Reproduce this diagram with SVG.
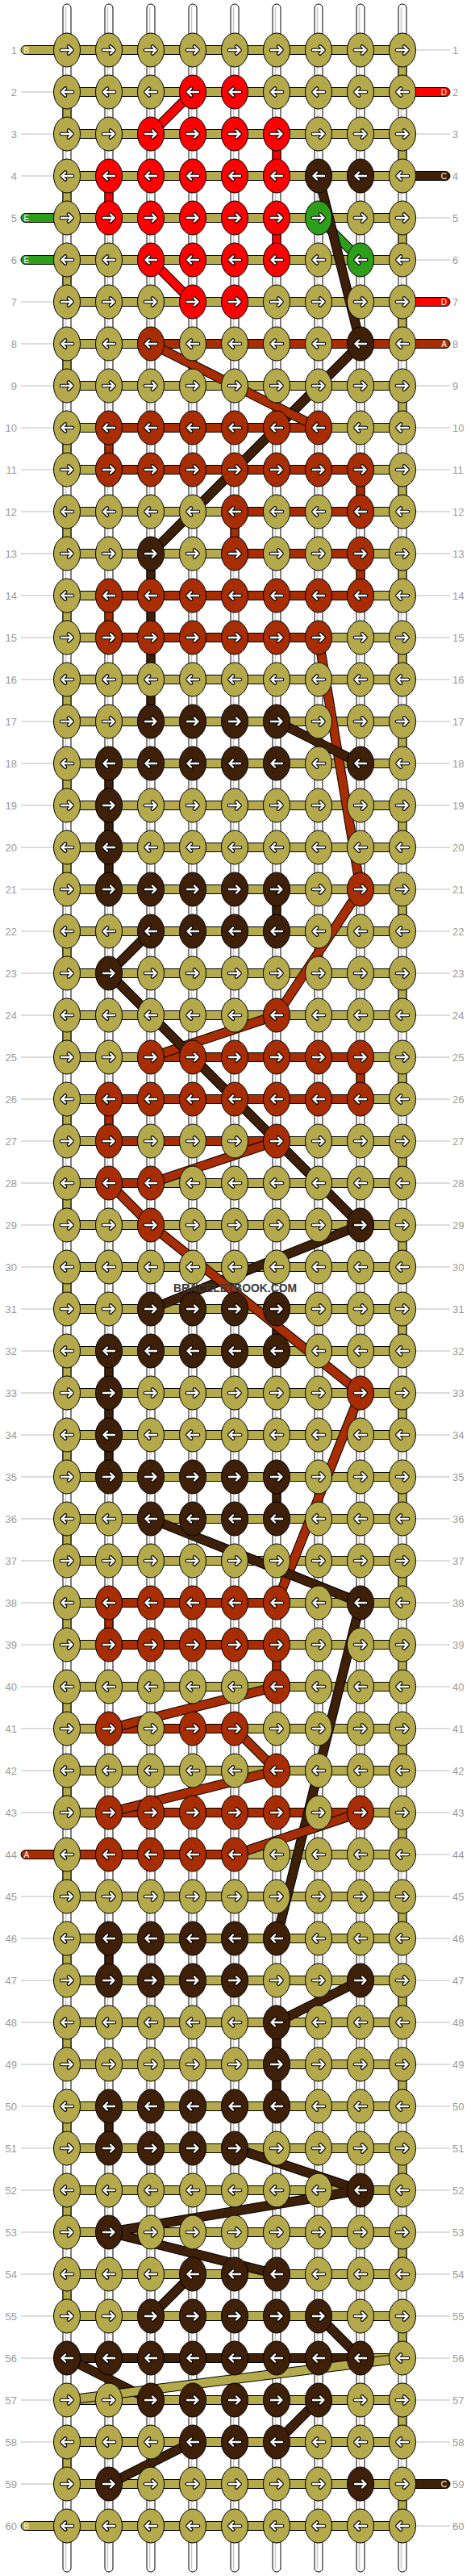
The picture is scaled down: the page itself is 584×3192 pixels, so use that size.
<svg xmlns="http://www.w3.org/2000/svg" width="584" height="3192" viewBox="0 0 584 3192">
<style>
.O{fill:#b4aa4b}.R{fill:#ff0000}.C{fill:#3e1f08}.E{fill:#2e9e1a}.A{fill:#a82d03}
.s{stroke:#000;stroke-width:1}
.wt{fill:#fff;stroke:#000;stroke-width:1}
.wl{stroke:#c8c8c8;stroke-width:1.5}
.gl{stroke:#bbb;stroke-width:1}
.ab{fill:none;stroke:#000;stroke-width:4.6;stroke-linecap:round;stroke-linejoin:round}
.aw{fill:none;stroke:#fff;stroke-width:2.4;stroke-linecap:round;stroke-linejoin:round}
.dk{fill:none;stroke:#000;stroke-width:12}
.dO{fill:none;stroke:#b4aa4b;stroke-width:10}
.dR{fill:none;stroke:#ff0000;stroke-width:10}
.dC{fill:none;stroke:#3e1f08;stroke-width:10}
.dE{fill:none;stroke:#2e9e1a;stroke-width:10}
.dA{fill:none;stroke:#a82d03;stroke-width:10}
.lb{font-family:"Liberation Sans",Arial,sans-serif;font-size:13px;fill:#9a9a9a}
.tl{font-family:"Liberation Sans",Arial,sans-serif;font-size:10px;fill:#fff}
</style>
<defs>
<path id="pr" d="M-7,0H6.5M2,-4.5L6.5,0L2,4.5"/>
<path id="pl" d="M7,0H-6.5M-2,-4.5L-6.5,0L-2,4.5"/>
<g id="aR"><use href="#pr" class="ab"/><use href="#pr" class="aw"/></g>
<g id="aL"><use href="#pl" class="ab"/><use href="#pl" class="aw"/></g>
<ellipse id="e" rx="16.5" ry="21" stroke="#000" stroke-width="1"/>
<g id="OR"><use href="#e" class="O"/><use href="#aR"/></g>
<g id="OL"><use href="#e" class="O"/><use href="#aL"/></g>
<g id="RR"><use href="#e" class="R"/><use href="#aR"/></g>
<g id="RL"><use href="#e" class="R"/><use href="#aL"/></g>
<g id="CR"><use href="#e" class="C"/><use href="#aR"/></g>
<g id="CL"><use href="#e" class="C"/><use href="#aL"/></g>
<g id="ER"><use href="#e" class="E"/><use href="#aR"/></g>
<g id="EL"><use href="#e" class="E"/><use href="#aL"/></g>
<g id="AR"><use href="#e" class="A"/><use href="#aR"/></g>
<g id="AL"><use href="#e" class="A"/><use href="#aL"/></g>
<rect id="v" width="10" height="52" stroke="#000" stroke-width="1"/>
</defs>
<rect width="584" height="3192" fill="#fff"/>
<g id="labels-lines">
<line x1="512" y1="62" x2="558" y2="62" class="gl"/>
<line x1="26" y1="114" x2="70" y2="114" class="gl"/>
<line x1="26" y1="166" x2="70" y2="166" class="gl"/><line x1="512" y1="166" x2="558" y2="166" class="gl"/>
<line x1="26" y1="218" x2="70" y2="218" class="gl"/>
<line x1="512" y1="270" x2="558" y2="270" class="gl"/>
<line x1="512" y1="322" x2="558" y2="322" class="gl"/>
<line x1="26" y1="374" x2="70" y2="374" class="gl"/>
<line x1="26" y1="426" x2="70" y2="426" class="gl"/>
<line x1="26" y1="478" x2="70" y2="478" class="gl"/><line x1="512" y1="478" x2="558" y2="478" class="gl"/>
<line x1="26" y1="530" x2="70" y2="530" class="gl"/><line x1="512" y1="530" x2="558" y2="530" class="gl"/>
<line x1="26" y1="582" x2="70" y2="582" class="gl"/><line x1="512" y1="582" x2="558" y2="582" class="gl"/>
<line x1="26" y1="634" x2="70" y2="634" class="gl"/><line x1="512" y1="634" x2="558" y2="634" class="gl"/>
<line x1="26" y1="686" x2="70" y2="686" class="gl"/><line x1="512" y1="686" x2="558" y2="686" class="gl"/>
<line x1="26" y1="738" x2="70" y2="738" class="gl"/><line x1="512" y1="738" x2="558" y2="738" class="gl"/>
<line x1="26" y1="790" x2="70" y2="790" class="gl"/><line x1="512" y1="790" x2="558" y2="790" class="gl"/>
<line x1="26" y1="842" x2="70" y2="842" class="gl"/><line x1="512" y1="842" x2="558" y2="842" class="gl"/>
<line x1="26" y1="894" x2="70" y2="894" class="gl"/><line x1="512" y1="894" x2="558" y2="894" class="gl"/>
<line x1="26" y1="946" x2="70" y2="946" class="gl"/><line x1="512" y1="946" x2="558" y2="946" class="gl"/>
<line x1="26" y1="998" x2="70" y2="998" class="gl"/><line x1="512" y1="998" x2="558" y2="998" class="gl"/>
<line x1="26" y1="1050" x2="70" y2="1050" class="gl"/><line x1="512" y1="1050" x2="558" y2="1050" class="gl"/>
<line x1="26" y1="1102" x2="70" y2="1102" class="gl"/><line x1="512" y1="1102" x2="558" y2="1102" class="gl"/>
<line x1="26" y1="1154" x2="70" y2="1154" class="gl"/><line x1="512" y1="1154" x2="558" y2="1154" class="gl"/>
<line x1="26" y1="1206" x2="70" y2="1206" class="gl"/><line x1="512" y1="1206" x2="558" y2="1206" class="gl"/>
<line x1="26" y1="1258" x2="70" y2="1258" class="gl"/><line x1="512" y1="1258" x2="558" y2="1258" class="gl"/>
<line x1="26" y1="1310" x2="70" y2="1310" class="gl"/><line x1="512" y1="1310" x2="558" y2="1310" class="gl"/>
<line x1="26" y1="1362" x2="70" y2="1362" class="gl"/><line x1="512" y1="1362" x2="558" y2="1362" class="gl"/>
<line x1="26" y1="1414" x2="70" y2="1414" class="gl"/><line x1="512" y1="1414" x2="558" y2="1414" class="gl"/>
<line x1="26" y1="1466" x2="70" y2="1466" class="gl"/><line x1="512" y1="1466" x2="558" y2="1466" class="gl"/>
<line x1="26" y1="1518" x2="70" y2="1518" class="gl"/><line x1="512" y1="1518" x2="558" y2="1518" class="gl"/>
<line x1="26" y1="1570" x2="70" y2="1570" class="gl"/><line x1="512" y1="1570" x2="558" y2="1570" class="gl"/>
<line x1="26" y1="1622" x2="70" y2="1622" class="gl"/><line x1="512" y1="1622" x2="558" y2="1622" class="gl"/>
<line x1="26" y1="1674" x2="70" y2="1674" class="gl"/><line x1="512" y1="1674" x2="558" y2="1674" class="gl"/>
<line x1="26" y1="1726" x2="70" y2="1726" class="gl"/><line x1="512" y1="1726" x2="558" y2="1726" class="gl"/>
<line x1="26" y1="1778" x2="70" y2="1778" class="gl"/><line x1="512" y1="1778" x2="558" y2="1778" class="gl"/>
<line x1="26" y1="1830" x2="70" y2="1830" class="gl"/><line x1="512" y1="1830" x2="558" y2="1830" class="gl"/>
<line x1="26" y1="1882" x2="70" y2="1882" class="gl"/><line x1="512" y1="1882" x2="558" y2="1882" class="gl"/>
<line x1="26" y1="1934" x2="70" y2="1934" class="gl"/><line x1="512" y1="1934" x2="558" y2="1934" class="gl"/>
<line x1="26" y1="1986" x2="70" y2="1986" class="gl"/><line x1="512" y1="1986" x2="558" y2="1986" class="gl"/>
<line x1="26" y1="2038" x2="70" y2="2038" class="gl"/><line x1="512" y1="2038" x2="558" y2="2038" class="gl"/>
<line x1="26" y1="2090" x2="70" y2="2090" class="gl"/><line x1="512" y1="2090" x2="558" y2="2090" class="gl"/>
<line x1="26" y1="2142" x2="70" y2="2142" class="gl"/><line x1="512" y1="2142" x2="558" y2="2142" class="gl"/>
<line x1="26" y1="2194" x2="70" y2="2194" class="gl"/><line x1="512" y1="2194" x2="558" y2="2194" class="gl"/>
<line x1="26" y1="2246" x2="70" y2="2246" class="gl"/><line x1="512" y1="2246" x2="558" y2="2246" class="gl"/>
<line x1="512" y1="2298" x2="558" y2="2298" class="gl"/>
<line x1="26" y1="2350" x2="70" y2="2350" class="gl"/><line x1="512" y1="2350" x2="558" y2="2350" class="gl"/>
<line x1="26" y1="2402" x2="70" y2="2402" class="gl"/><line x1="512" y1="2402" x2="558" y2="2402" class="gl"/>
<line x1="26" y1="2454" x2="70" y2="2454" class="gl"/><line x1="512" y1="2454" x2="558" y2="2454" class="gl"/>
<line x1="26" y1="2506" x2="70" y2="2506" class="gl"/><line x1="512" y1="2506" x2="558" y2="2506" class="gl"/>
<line x1="26" y1="2558" x2="70" y2="2558" class="gl"/><line x1="512" y1="2558" x2="558" y2="2558" class="gl"/>
<line x1="26" y1="2610" x2="70" y2="2610" class="gl"/><line x1="512" y1="2610" x2="558" y2="2610" class="gl"/>
<line x1="26" y1="2662" x2="70" y2="2662" class="gl"/><line x1="512" y1="2662" x2="558" y2="2662" class="gl"/>
<line x1="26" y1="2714" x2="70" y2="2714" class="gl"/><line x1="512" y1="2714" x2="558" y2="2714" class="gl"/>
<line x1="26" y1="2766" x2="70" y2="2766" class="gl"/><line x1="512" y1="2766" x2="558" y2="2766" class="gl"/>
<line x1="26" y1="2818" x2="70" y2="2818" class="gl"/><line x1="512" y1="2818" x2="558" y2="2818" class="gl"/>
<line x1="26" y1="2870" x2="70" y2="2870" class="gl"/><line x1="512" y1="2870" x2="558" y2="2870" class="gl"/>
<line x1="26" y1="2922" x2="70" y2="2922" class="gl"/><line x1="512" y1="2922" x2="558" y2="2922" class="gl"/>
<line x1="26" y1="2974" x2="70" y2="2974" class="gl"/><line x1="512" y1="2974" x2="558" y2="2974" class="gl"/>
<line x1="26" y1="3026" x2="70" y2="3026" class="gl"/><line x1="512" y1="3026" x2="558" y2="3026" class="gl"/>
<line x1="26" y1="3078" x2="70" y2="3078" class="gl"/>
<line x1="512" y1="3130" x2="558" y2="3130" class="gl"/>
</g>
<g id="connectors">
<g id="strings">
<rect x="78" y="5" width="10" height="3182" rx="5" class="wt"/><line x1="81.5" y1="9" x2="81.5" y2="3183" class="wl"/>
<rect x="130" y="5" width="10" height="3182" rx="5" class="wt"/><line x1="133.5" y1="9" x2="133.5" y2="3183" class="wl"/>
<rect x="182" y="5" width="10" height="3182" rx="5" class="wt"/><line x1="185.5" y1="9" x2="185.5" y2="3183" class="wl"/>
<rect x="234" y="5" width="10" height="3182" rx="5" class="wt"/><line x1="237.5" y1="9" x2="237.5" y2="3183" class="wl"/>
<rect x="286" y="5" width="10" height="3182" rx="5" class="wt"/><line x1="289.5" y1="9" x2="289.5" y2="3183" class="wl"/>
<rect x="338" y="5" width="10" height="3182" rx="5" class="wt"/><line x1="341.5" y1="9" x2="341.5" y2="3183" class="wl"/>
<rect x="390" y="5" width="10" height="3182" rx="5" class="wt"/><line x1="393.5" y1="9" x2="393.5" y2="3183" class="wl"/>
<rect x="442" y="5" width="10" height="3182" rx="5" class="wt"/><line x1="445.5" y1="9" x2="445.5" y2="3183" class="wl"/>
<rect x="494" y="5" width="10" height="3182" rx="5" class="wt"/><line x1="497.5" y1="9" x2="497.5" y2="3183" class="wl"/>
</g>
<g id="turns">
<use href="#v" class="O" x="494" y="62"/><use href="#v" class="O" x="494" y="166"/><use href="#v" class="O" x="494" y="270"/><use href="#v" class="O" x="494" y="374"/><use href="#v" class="O" x="494" y="478"/><use href="#v" class="O" x="494" y="582"/><use href="#v" class="O" x="494" y="686"/><use href="#v" class="O" x="494" y="790"/><use href="#v" class="O" x="494" y="894"/><use href="#v" class="O" x="494" y="998"/>
<use href="#v" class="O" x="494" y="1102"/><use href="#v" class="O" x="494" y="1206"/><use href="#v" class="O" x="494" y="1310"/><use href="#v" class="O" x="494" y="1414"/><use href="#v" class="O" x="494" y="1518"/><use href="#v" class="O" x="494" y="1622"/><use href="#v" class="O" x="494" y="1726"/><use href="#v" class="O" x="494" y="1830"/><use href="#v" class="O" x="494" y="1934"/><use href="#v" class="O" x="494" y="2038"/>
<use href="#v" class="O" x="494" y="2142"/><use href="#v" class="O" x="494" y="2246"/><use href="#v" class="O" x="494" y="2350"/><use href="#v" class="O" x="494" y="2454"/><use href="#v" class="O" x="494" y="2558"/><use href="#v" class="O" x="494" y="2662"/><use href="#v" class="O" x="494" y="2766"/><use href="#v" class="O" x="494" y="2870"/><use href="#v" class="O" x="494" y="2974"/><use href="#v" class="O" x="494" y="3078"/>
<use href="#v" class="O" x="78" y="114"/><use href="#v" class="O" x="78" y="218"/><use href="#v" class="O" x="78" y="322"/><use href="#v" class="O" x="78" y="426"/><use href="#v" class="O" x="78" y="530"/><use href="#v" class="O" x="78" y="634"/><use href="#v" class="O" x="78" y="738"/><use href="#v" class="O" x="78" y="842"/><use href="#v" class="O" x="78" y="946"/><use href="#v" class="O" x="78" y="1050"/>
<use href="#v" class="O" x="78" y="1154"/><use href="#v" class="O" x="78" y="1258"/><use href="#v" class="O" x="78" y="1362"/><use href="#v" class="O" x="78" y="1466"/><use href="#v" class="O" x="78" y="1570"/><use href="#v" class="O" x="78" y="1674"/><use href="#v" class="O" x="78" y="1778"/><use href="#v" class="O" x="78" y="1882"/><use href="#v" class="O" x="78" y="1986"/><use href="#v" class="O" x="78" y="2090"/>
<use href="#v" class="O" x="78" y="2194"/><use href="#v" class="O" x="78" y="2298"/><use href="#v" class="O" x="78" y="2402"/><use href="#v" class="O" x="78" y="2506"/><use href="#v" class="O" x="78" y="2610"/><use href="#v" class="O" x="78" y="2714"/><use href="#v" class="O" x="78" y="2818"/><use href="#v" class="O" x="78" y="3026"/>
<use href="#v" class="R" x="338" y="166"/><use href="#v" class="R" x="130" y="218"/><use href="#v" class="R" x="338" y="270"/>
<use href="#v" class="A" x="130" y="530"/><use href="#v" class="A" x="442" y="582"/><use href="#v" class="A" x="286" y="634"/>
<use href="#v" class="C" x="182" y="686"/><use href="#v" class="A" x="442" y="686"/>
<use href="#v" class="A" x="130" y="738"/><use href="#v" class="C" x="182" y="738"/>
<use href="#v" class="C" x="182" y="790"/><use href="#v" class="C" x="182" y="842"/>
<use href="#v" class="C" x="130" y="946"/><use href="#v" class="C" x="130" y="998"/><use href="#v" class="C" x="130" y="1050"/><use href="#v" class="C" x="338" y="1102"/>
<use href="#v" class="A" x="442" y="1310"/><use href="#v" class="A" x="130" y="1362"/>
<use href="#v" class="C" x="338" y="1622"/><use href="#v" class="C" x="130" y="1674"/><use href="#v" class="C" x="130" y="1726"/><use href="#v" class="C" x="130" y="1778"/><use href="#v" class="C" x="338" y="1830"/>
<use href="#v" class="A" x="130" y="1986"/><use href="#v" class="A" x="338" y="2038"/>
<use href="#v" class="C" x="130" y="2402"/><use href="#v" class="C" x="338" y="2506"/><use href="#v" class="C" x="338" y="2558"/><use href="#v" class="C" x="130" y="2610"/>
</g>
<g id="rails" class="s">
<rect x="83" y="56.5" width="416" height="11" class="O"/><rect x="83" y="108.5" width="416" height="11" class="O"/><rect x="83" y="160.5" width="416" height="11" class="O"/><rect x="83" y="212.5" width="416" height="11" class="O"/><rect x="83" y="264.5" width="416" height="11" class="O"/><rect x="83" y="316.5" width="416" height="11" class="O"/><rect x="83" y="368.5" width="416" height="11" class="O"/><rect x="83" y="420.5" width="416" height="11" class="O"/><rect x="83" y="472.5" width="416" height="11" class="O"/><rect x="83" y="524.5" width="416" height="11" class="O"/>
<rect x="83" y="576.5" width="416" height="11" class="O"/><rect x="83" y="628.5" width="416" height="11" class="O"/><rect x="83" y="680.5" width="416" height="11" class="O"/><rect x="83" y="732.5" width="416" height="11" class="O"/><rect x="83" y="784.5" width="416" height="11" class="O"/><rect x="83" y="836.5" width="416" height="11" class="O"/><rect x="83" y="888.5" width="416" height="11" class="O"/><rect x="83" y="940.5" width="416" height="11" class="O"/><rect x="83" y="992.5" width="416" height="11" class="O"/><rect x="83" y="1044.5" width="416" height="11" class="O"/>
<rect x="83" y="1096.5" width="416" height="11" class="O"/><rect x="83" y="1148.5" width="416" height="11" class="O"/><rect x="83" y="1200.5" width="416" height="11" class="O"/><rect x="83" y="1252.5" width="416" height="11" class="O"/><rect x="83" y="1304.5" width="416" height="11" class="O"/><rect x="83" y="1356.5" width="416" height="11" class="O"/><rect x="83" y="1408.5" width="416" height="11" class="O"/><rect x="83" y="1460.5" width="416" height="11" class="O"/><rect x="83" y="1512.5" width="416" height="11" class="O"/><rect x="83" y="1564.5" width="416" height="11" class="O"/>
<rect x="83" y="1616.5" width="416" height="11" class="O"/><rect x="83" y="1668.5" width="416" height="11" class="O"/><rect x="83" y="1720.5" width="416" height="11" class="O"/><rect x="83" y="1772.5" width="416" height="11" class="O"/><rect x="83" y="1824.5" width="416" height="11" class="O"/><rect x="83" y="1876.5" width="416" height="11" class="O"/><rect x="83" y="1928.5" width="416" height="11" class="O"/><rect x="83" y="1980.5" width="416" height="11" class="O"/><rect x="83" y="2032.5" width="416" height="11" class="O"/><rect x="83" y="2084.5" width="416" height="11" class="O"/>
<rect x="83" y="2136.5" width="416" height="11" class="O"/><rect x="83" y="2188.5" width="416" height="11" class="O"/><rect x="83" y="2240.5" width="416" height="11" class="O"/><rect x="83" y="2292.5" width="416" height="11" class="O"/><rect x="83" y="2344.5" width="416" height="11" class="O"/><rect x="83" y="2396.5" width="416" height="11" class="O"/><rect x="83" y="2448.5" width="416" height="11" class="O"/><rect x="83" y="2500.5" width="416" height="11" class="O"/><rect x="83" y="2552.5" width="416" height="11" class="O"/><rect x="83" y="2604.5" width="416" height="11" class="O"/>
<rect x="83" y="2656.5" width="416" height="11" class="O"/><rect x="83" y="2708.5" width="416" height="11" class="O"/><rect x="83" y="2760.5" width="416" height="11" class="O"/><rect x="83" y="2812.5" width="416" height="11" class="O"/><rect x="83" y="2864.5" width="416" height="11" class="O"/><rect x="83" y="2916.5" width="416" height="11" class="O"/><rect x="83" y="2968.5" width="416" height="11" class="O"/><rect x="83" y="3020.5" width="416" height="11" class="O"/><rect x="83" y="3072.5" width="416" height="11" class="O"/><rect x="83" y="3124.5" width="416" height="11" class="O"/>
<rect x="187" y="420.5" width="312" height="11" class="A"/>
<rect x="135" y="524.5" width="260" height="11" class="A"/>
<rect x="135" y="576.5" width="312" height="11" class="A"/>
<rect x="291" y="628.5" width="156" height="11" class="A"/>
<rect x="291" y="680.5" width="156" height="11" class="A"/>
<rect x="135" y="732.5" width="312" height="11" class="A"/>
<rect x="135" y="784.5" width="260" height="11" class="A"/>
<rect x="187" y="1304.5" width="260" height="11" class="A"/>
<rect x="135" y="1356.5" width="312" height="11" class="A"/>
<rect x="135" y="1408.5" width="208" height="11" class="A"/>
<rect x="135" y="1460.5" width="52" height="11" class="A"/>
<rect x="135" y="1980.5" width="208" height="11" class="A"/>
<rect x="135" y="2032.5" width="208" height="11" class="A"/>
<rect x="135" y="2136.5" width="156" height="11" class="A"/>
<rect x="135" y="2240.5" width="312" height="11" class="A"/>
<rect x="83" y="2292.5" width="208" height="11" class="A"/>
<rect x="83" y="2916.5" width="364" height="11" class="C"/>
</g>
<g id="tails" class="s">
<rect x="26" y="56.5" width="62" height="11" rx="5.5" class="O"/>
<rect x="26" y="264.5" width="62" height="11" rx="5.5" class="E"/>
<rect x="26" y="316.5" width="62" height="11" rx="5.5" class="E"/>
<rect x="26" y="2292.5" width="62" height="11" rx="5.5" class="A"/>
<rect x="26" y="3124.5" width="62" height="11" rx="5.5" class="O"/>
<rect x="494" y="108.5" width="64" height="11" rx="5.5" class="R"/>
<rect x="494" y="212.5" width="64" height="11" rx="5.5" class="C"/>
<rect x="494" y="368.5" width="64" height="11" rx="5.5" class="R"/>
<rect x="494" y="420.5" width="64" height="11" rx="5.5" class="A"/>
<rect x="494" y="3072.5" width="64" height="11" rx="5.5" class="C"/>
</g>
<g id="diagonals">
<polyline class="dk" points="239,114 187,166"/><polyline class="dR" points="239,114 187,166"/>
<polyline class="dk" points="187,322 239,374"/><polyline class="dR" points="187,322 239,374"/>
<polyline class="dk" points="395,270 447,322"/><polyline class="dE" points="395,270 447,322"/>
<polyline class="dk" points="395,218 447,426 187,686"/><polyline class="dC" points="395,218 447,426 187,686"/>
<polyline class="dk" points="187,426 291,478 395,530"/><polyline class="dA" points="187,426 291,478 395,530"/>
<polyline class="dk" points="395,790 447,1102 343,1258 187,1310"/><polyline class="dA" points="395,790 447,1102 343,1258 187,1310"/>
<polyline class="dk" points="343,894 447,946"/><polyline class="dC" points="343,894 447,946"/>
<polyline class="dk" points="187,1154 135,1206 239,1310 447,1518 187,1622"/><polyline class="dC" points="187,1154 135,1206 239,1310 447,1518 187,1622"/>
<polyline class="dk" points="343,1414 187,1466"/><polyline class="dA" points="343,1414 187,1466"/>
<polyline class="dk" points="135,1466 187,1518 447,1726 343,1986"/><polyline class="dA" points="135,1466 187,1518 447,1726 343,1986"/>
<polyline class="dk" points="187,1882 447,1986 343,2402"/><polyline class="dC" points="187,1882 447,1986 343,2402"/>
<polyline class="dk" points="343,2090 135,2142"/><polyline class="dA" points="343,2090 135,2142"/>
<polyline class="dk" points="291,2142 343,2194 135,2246"/><polyline class="dA" points="291,2142 343,2194 135,2246"/>
<polyline class="dk" points="447,2246 291,2298"/><polyline class="dA" points="447,2246 291,2298"/>
<polyline class="dk" points="447,2454 343,2506"/><polyline class="dC" points="447,2454 343,2506"/>
<polyline class="dk" points="291,2662 447,2714 135,2766 343,2818"/><polyline class="dC" points="291,2662 447,2714 135,2766 343,2818"/>
<polyline class="dk" points="239,2818 187,2870"/><polyline class="dC" points="239,2818 187,2870"/>
<polyline class="dk" points="395,2870 447,2922"/><polyline class="dC" points="395,2870 447,2922"/>
<polyline class="dk" points="83,2922 187,2974"/><polyline class="dC" points="83,2922 187,2974"/>
<polyline class="dk" points="499,2922 83,2974"/><polyline class="dO" points="499,2922 83,2974"/>
<polyline class="dk" points="395,2974 343,3026"/><polyline class="dC" points="395,2974 343,3026"/>
<polyline class="dk" points="239,3026 135,3078"/><polyline class="dC" points="239,3026 135,3078"/>
</g>
</g>
<g id="tail-letters" class="tl">
<text x="29.5" y="65.5" fill="#fffbd0">B</text>
<text x="29.5" y="273.5">E</text>
<text x="29.5" y="325.5">E</text>
<text x="29.5" y="2301.5">A</text>
<text x="29.5" y="3133.5" fill="#fffbd0">B</text>
<text x="554" y="117.5" text-anchor="end">D</text>
<text x="554" y="221.5" text-anchor="end">C</text>
<text x="554" y="377.5" text-anchor="end">D</text>
<text x="554" y="429.5" text-anchor="end">A</text>
<text x="554" y="3081.5" text-anchor="end">C</text>
</g>
<g id="knots">
<g id="r1"><g id="k1-1"><use href="#OR" x="83" y="62"/></g><g id="k1-2"><use href="#OR" x="135" y="62"/></g><g id="k1-3"><use href="#OR" x="187" y="62"/></g><g id="k1-4"><use href="#OR" x="239" y="62"/></g><g id="k1-5"><use href="#OR" x="291" y="62"/></g><g id="k1-6"><use href="#OR" x="343" y="62"/></g><g id="k1-7"><use href="#OR" x="395" y="62"/></g><g id="k1-8"><use href="#OR" x="447" y="62"/></g><g id="k1-9"><use href="#OR" x="499" y="62"/></g></g>
<g id="r2"><g id="k2-1"><use href="#OL" x="83" y="114"/></g><g id="k2-2"><use href="#OL" x="135" y="114"/></g><g id="k2-3"><use href="#OL" x="187" y="114"/></g><g id="k2-4"><use href="#RL" x="239" y="114"/></g><g id="k2-5"><use href="#RL" x="291" y="114"/></g><g id="k2-6"><use href="#OL" x="343" y="114"/></g><g id="k2-7"><use href="#OL" x="395" y="114"/></g><g id="k2-8"><use href="#OL" x="447" y="114"/></g><g id="k2-9"><use href="#OL" x="499" y="114"/></g></g>
<g id="r3"><g id="k3-1"><use href="#OR" x="83" y="166"/></g><g id="k3-2"><use href="#OR" x="135" y="166"/></g><g id="k3-3"><use href="#RR" x="187" y="166"/></g><g id="k3-4"><use href="#RR" x="239" y="166"/></g><g id="k3-5"><use href="#RR" x="291" y="166"/></g><g id="k3-6"><use href="#RR" x="343" y="166"/></g><g id="k3-7"><use href="#OR" x="395" y="166"/></g><g id="k3-8"><use href="#OR" x="447" y="166"/></g><g id="k3-9"><use href="#OR" x="499" y="166"/></g></g>
<g id="r4"><g id="k4-1"><use href="#OL" x="83" y="218"/></g><g id="k4-2"><use href="#RL" x="135" y="218"/></g><g id="k4-3"><use href="#RL" x="187" y="218"/></g><g id="k4-4"><use href="#RL" x="239" y="218"/></g><g id="k4-5"><use href="#RL" x="291" y="218"/></g><g id="k4-6"><use href="#RL" x="343" y="218"/></g><g id="k4-7"><use href="#CL" x="395" y="218"/></g><g id="k4-8"><use href="#CL" x="447" y="218"/></g><g id="k4-9"><use href="#OL" x="499" y="218"/></g></g>
<g id="r5"><g id="k5-1"><use href="#OR" x="83" y="270"/></g><g id="k5-2"><use href="#RR" x="135" y="270"/></g><g id="k5-3"><use href="#RR" x="187" y="270"/></g><g id="k5-4"><use href="#RR" x="239" y="270"/></g><g id="k5-5"><use href="#RR" x="291" y="270"/></g><g id="k5-6"><use href="#RR" x="343" y="270"/></g><g id="k5-7"><use href="#ER" x="395" y="270"/></g><g id="k5-8"><use href="#OR" x="447" y="270"/></g><g id="k5-9"><use href="#OR" x="499" y="270"/></g></g>
<g id="r6"><g id="k6-1"><use href="#OL" x="83" y="322"/></g><g id="k6-2"><use href="#OL" x="135" y="322"/></g><g id="k6-3"><use href="#RL" x="187" y="322"/></g><g id="k6-4"><use href="#RL" x="239" y="322"/></g><g id="k6-5"><use href="#RL" x="291" y="322"/></g><g id="k6-6"><use href="#RL" x="343" y="322"/></g><g id="k6-7"><use href="#OL" x="395" y="322"/></g><g id="k6-8"><use href="#EL" x="447" y="322"/></g><g id="k6-9"><use href="#OL" x="499" y="322"/></g></g>
<g id="r7"><g id="k7-1"><use href="#OR" x="83" y="374"/></g><g id="k7-2"><use href="#OR" x="135" y="374"/></g><g id="k7-3"><use href="#OR" x="187" y="374"/></g><g id="k7-4"><use href="#RR" x="239" y="374"/></g><g id="k7-5"><use href="#RR" x="291" y="374"/></g><g id="k7-6"><use href="#OR" x="343" y="374"/></g><g id="k7-7"><use href="#OR" x="395" y="374"/></g><g id="k7-8"><use href="#OR" x="447" y="374"/></g><g id="k7-9"><use href="#OR" x="499" y="374"/></g></g>
<g id="r8"><g id="k8-1"><use href="#OL" x="83" y="426"/></g><g id="k8-2"><use href="#OL" x="135" y="426"/></g><g id="k8-3"><use href="#AL" x="187" y="426"/></g><g id="k8-4"><use href="#OL" x="239" y="426"/></g><g id="k8-5"><use href="#OL" x="291" y="426"/></g><g id="k8-6"><use href="#OL" x="343" y="426"/></g><g id="k8-7"><use href="#OL" x="395" y="426"/></g><g id="k8-8"><use href="#CL" x="447" y="426"/></g><g id="k8-9"><use href="#OL" x="499" y="426"/></g></g>
<g id="r9"><g id="k9-1"><use href="#OR" x="83" y="478"/></g><g id="k9-2"><use href="#OR" x="135" y="478"/></g><g id="k9-3"><use href="#OR" x="187" y="478"/></g><g id="k9-4"><use href="#OR" x="239" y="478"/></g><g id="k9-5"><use href="#OR" x="291" y="478"/></g><g id="k9-6"><use href="#OR" x="343" y="478"/></g><g id="k9-7"><use href="#OR" x="395" y="478"/></g><g id="k9-8"><use href="#OR" x="447" y="478"/></g><g id="k9-9"><use href="#OR" x="499" y="478"/></g></g>
<g id="r10"><g id="k10-1"><use href="#OL" x="83" y="530"/></g><g id="k10-2"><use href="#AL" x="135" y="530"/></g><g id="k10-3"><use href="#AL" x="187" y="530"/></g><g id="k10-4"><use href="#AL" x="239" y="530"/></g><g id="k10-5"><use href="#AL" x="291" y="530"/></g><g id="k10-6"><use href="#AL" x="343" y="530"/></g><g id="k10-7"><use href="#AL" x="395" y="530"/></g><g id="k10-8"><use href="#OL" x="447" y="530"/></g><g id="k10-9"><use href="#OL" x="499" y="530"/></g></g>
<g id="r11"><g id="k11-1"><use href="#OR" x="83" y="582"/></g><g id="k11-2"><use href="#AR" x="135" y="582"/></g><g id="k11-3"><use href="#AR" x="187" y="582"/></g><g id="k11-4"><use href="#AR" x="239" y="582"/></g><g id="k11-5"><use href="#AR" x="291" y="582"/></g><g id="k11-6"><use href="#AR" x="343" y="582"/></g><g id="k11-7"><use href="#AR" x="395" y="582"/></g><g id="k11-8"><use href="#AR" x="447" y="582"/></g><g id="k11-9"><use href="#OR" x="499" y="582"/></g></g>
<g id="r12"><g id="k12-1"><use href="#OL" x="83" y="634"/></g><g id="k12-2"><use href="#OL" x="135" y="634"/></g><g id="k12-3"><use href="#OL" x="187" y="634"/></g><g id="k12-4"><use href="#OL" x="239" y="634"/></g><g id="k12-5"><use href="#AL" x="291" y="634"/></g><g id="k12-6"><use href="#OL" x="343" y="634"/></g><g id="k12-7"><use href="#OL" x="395" y="634"/></g><g id="k12-8"><use href="#AL" x="447" y="634"/></g><g id="k12-9"><use href="#OL" x="499" y="634"/></g></g>
<g id="r13"><g id="k13-1"><use href="#OR" x="83" y="686"/></g><g id="k13-2"><use href="#OR" x="135" y="686"/></g><g id="k13-3"><use href="#CR" x="187" y="686"/></g><g id="k13-4"><use href="#OR" x="239" y="686"/></g><g id="k13-5"><use href="#AR" x="291" y="686"/></g><g id="k13-6"><use href="#OR" x="343" y="686"/></g><g id="k13-7"><use href="#OR" x="395" y="686"/></g><g id="k13-8"><use href="#AR" x="447" y="686"/></g><g id="k13-9"><use href="#OR" x="499" y="686"/></g></g>
<g id="r14"><g id="k14-1"><use href="#OL" x="83" y="738"/></g><g id="k14-2"><use href="#AL" x="135" y="738"/></g><g id="k14-3"><use href="#AL" x="187" y="738"/></g><g id="k14-4"><use href="#AL" x="239" y="738"/></g><g id="k14-5"><use href="#AL" x="291" y="738"/></g><g id="k14-6"><use href="#AL" x="343" y="738"/></g><g id="k14-7"><use href="#AL" x="395" y="738"/></g><g id="k14-8"><use href="#AL" x="447" y="738"/></g><g id="k14-9"><use href="#OL" x="499" y="738"/></g></g>
<g id="r15"><g id="k15-1"><use href="#OR" x="83" y="790"/></g><g id="k15-2"><use href="#AR" x="135" y="790"/></g><g id="k15-3"><use href="#AR" x="187" y="790"/></g><g id="k15-4"><use href="#AR" x="239" y="790"/></g><g id="k15-5"><use href="#AR" x="291" y="790"/></g><g id="k15-6"><use href="#AR" x="343" y="790"/></g><g id="k15-7"><use href="#AR" x="395" y="790"/></g><g id="k15-8"><use href="#OR" x="447" y="790"/></g><g id="k15-9"><use href="#OR" x="499" y="790"/></g></g>
<g id="r16"><g id="k16-1"><use href="#OL" x="83" y="842"/></g><g id="k16-2"><use href="#OL" x="135" y="842"/></g><g id="k16-3"><use href="#OL" x="187" y="842"/></g><g id="k16-4"><use href="#OL" x="239" y="842"/></g><g id="k16-5"><use href="#OL" x="291" y="842"/></g><g id="k16-6"><use href="#OL" x="343" y="842"/></g><g id="k16-7"><use href="#OL" x="395" y="842"/></g><g id="k16-8"><use href="#OL" x="447" y="842"/></g><g id="k16-9"><use href="#OL" x="499" y="842"/></g></g>
<g id="r17"><g id="k17-1"><use href="#OR" x="83" y="894"/></g><g id="k17-2"><use href="#OR" x="135" y="894"/></g><g id="k17-3"><use href="#CR" x="187" y="894"/></g><g id="k17-4"><use href="#CR" x="239" y="894"/></g><g id="k17-5"><use href="#CR" x="291" y="894"/></g><g id="k17-6"><use href="#CR" x="343" y="894"/></g><g id="k17-7"><use href="#OR" x="395" y="894"/></g><g id="k17-8"><use href="#OR" x="447" y="894"/></g><g id="k17-9"><use href="#OR" x="499" y="894"/></g></g>
<g id="r18"><g id="k18-1"><use href="#OL" x="83" y="946"/></g><g id="k18-2"><use href="#CL" x="135" y="946"/></g><g id="k18-3"><use href="#CL" x="187" y="946"/></g><g id="k18-4"><use href="#CL" x="239" y="946"/></g><g id="k18-5"><use href="#CL" x="291" y="946"/></g><g id="k18-6"><use href="#CL" x="343" y="946"/></g><g id="k18-7"><use href="#OL" x="395" y="946"/></g><g id="k18-8"><use href="#CL" x="447" y="946"/></g><g id="k18-9"><use href="#OL" x="499" y="946"/></g></g>
<g id="r19"><g id="k19-1"><use href="#OR" x="83" y="998"/></g><g id="k19-2"><use href="#CR" x="135" y="998"/></g><g id="k19-3"><use href="#OR" x="187" y="998"/></g><g id="k19-4"><use href="#OR" x="239" y="998"/></g><g id="k19-5"><use href="#OR" x="291" y="998"/></g><g id="k19-6"><use href="#OR" x="343" y="998"/></g><g id="k19-7"><use href="#OR" x="395" y="998"/></g><g id="k19-8"><use href="#OR" x="447" y="998"/></g><g id="k19-9"><use href="#OR" x="499" y="998"/></g></g>
<g id="r20"><g id="k20-1"><use href="#OL" x="83" y="1050"/></g><g id="k20-2"><use href="#CL" x="135" y="1050"/></g><g id="k20-3"><use href="#OL" x="187" y="1050"/></g><g id="k20-4"><use href="#OL" x="239" y="1050"/></g><g id="k20-5"><use href="#OL" x="291" y="1050"/></g><g id="k20-6"><use href="#OL" x="343" y="1050"/></g><g id="k20-7"><use href="#OL" x="395" y="1050"/></g><g id="k20-8"><use href="#OL" x="447" y="1050"/></g><g id="k20-9"><use href="#OL" x="499" y="1050"/></g></g>
<g id="r21"><g id="k21-1"><use href="#OR" x="83" y="1102"/></g><g id="k21-2"><use href="#CR" x="135" y="1102"/></g><g id="k21-3"><use href="#CR" x="187" y="1102"/></g><g id="k21-4"><use href="#CR" x="239" y="1102"/></g><g id="k21-5"><use href="#CR" x="291" y="1102"/></g><g id="k21-6"><use href="#CR" x="343" y="1102"/></g><g id="k21-7"><use href="#OR" x="395" y="1102"/></g><g id="k21-8"><use href="#AR" x="447" y="1102"/></g><g id="k21-9"><use href="#OR" x="499" y="1102"/></g></g>
<g id="r22"><g id="k22-1"><use href="#OL" x="83" y="1154"/></g><g id="k22-2"><use href="#OL" x="135" y="1154"/></g><g id="k22-3"><use href="#CL" x="187" y="1154"/></g><g id="k22-4"><use href="#CL" x="239" y="1154"/></g><g id="k22-5"><use href="#CL" x="291" y="1154"/></g><g id="k22-6"><use href="#CL" x="343" y="1154"/></g><g id="k22-7"><use href="#OL" x="395" y="1154"/></g><g id="k22-8"><use href="#OL" x="447" y="1154"/></g><g id="k22-9"><use href="#OL" x="499" y="1154"/></g></g>
<g id="r23"><g id="k23-1"><use href="#OR" x="83" y="1206"/></g><g id="k23-2"><use href="#CR" x="135" y="1206"/></g><g id="k23-3"><use href="#OR" x="187" y="1206"/></g><g id="k23-4"><use href="#OR" x="239" y="1206"/></g><g id="k23-5"><use href="#OR" x="291" y="1206"/></g><g id="k23-6"><use href="#OR" x="343" y="1206"/></g><g id="k23-7"><use href="#OR" x="395" y="1206"/></g><g id="k23-8"><use href="#OR" x="447" y="1206"/></g><g id="k23-9"><use href="#OR" x="499" y="1206"/></g></g>
<g id="r24"><g id="k24-1"><use href="#OL" x="83" y="1258"/></g><g id="k24-2"><use href="#OL" x="135" y="1258"/></g><g id="k24-3"><use href="#OL" x="187" y="1258"/></g><g id="k24-4"><use href="#OL" x="239" y="1258"/></g><g id="k24-5"><use href="#OL" x="291" y="1258"/></g><g id="k24-6"><use href="#AL" x="343" y="1258"/></g><g id="k24-7"><use href="#OL" x="395" y="1258"/></g><g id="k24-8"><use href="#OL" x="447" y="1258"/></g><g id="k24-9"><use href="#OL" x="499" y="1258"/></g></g>
<g id="r25"><g id="k25-1"><use href="#OR" x="83" y="1310"/></g><g id="k25-2"><use href="#OR" x="135" y="1310"/></g><g id="k25-3"><use href="#AR" x="187" y="1310"/></g><g id="k25-4"><use href="#AR" x="239" y="1310"/></g><g id="k25-5"><use href="#AR" x="291" y="1310"/></g><g id="k25-6"><use href="#AR" x="343" y="1310"/></g><g id="k25-7"><use href="#AR" x="395" y="1310"/></g><g id="k25-8"><use href="#AR" x="447" y="1310"/></g><g id="k25-9"><use href="#OR" x="499" y="1310"/></g></g>
<g id="r26"><g id="k26-1"><use href="#OL" x="83" y="1362"/></g><g id="k26-2"><use href="#AL" x="135" y="1362"/></g><g id="k26-3"><use href="#AL" x="187" y="1362"/></g><g id="k26-4"><use href="#AL" x="239" y="1362"/></g><g id="k26-5"><use href="#AL" x="291" y="1362"/></g><g id="k26-6"><use href="#AL" x="343" y="1362"/></g><g id="k26-7"><use href="#AL" x="395" y="1362"/></g><g id="k26-8"><use href="#AL" x="447" y="1362"/></g><g id="k26-9"><use href="#OL" x="499" y="1362"/></g></g>
<g id="r27"><g id="k27-1"><use href="#OR" x="83" y="1414"/></g><g id="k27-2"><use href="#AR" x="135" y="1414"/></g><g id="k27-3"><use href="#OR" x="187" y="1414"/></g><g id="k27-4"><use href="#OR" x="239" y="1414"/></g><g id="k27-5"><use href="#OR" x="291" y="1414"/></g><g id="k27-6"><use href="#AR" x="343" y="1414"/></g><g id="k27-7"><use href="#OR" x="395" y="1414"/></g><g id="k27-8"><use href="#OR" x="447" y="1414"/></g><g id="k27-9"><use href="#OR" x="499" y="1414"/></g></g>
<g id="r28"><g id="k28-1"><use href="#OL" x="83" y="1466"/></g><g id="k28-2"><use href="#AL" x="135" y="1466"/></g><g id="k28-3"><use href="#AL" x="187" y="1466"/></g><g id="k28-4"><use href="#OL" x="239" y="1466"/></g><g id="k28-5"><use href="#OL" x="291" y="1466"/></g><g id="k28-6"><use href="#OL" x="343" y="1466"/></g><g id="k28-7"><use href="#OL" x="395" y="1466"/></g><g id="k28-8"><use href="#OL" x="447" y="1466"/></g><g id="k28-9"><use href="#OL" x="499" y="1466"/></g></g>
<g id="r29"><g id="k29-1"><use href="#OR" x="83" y="1518"/></g><g id="k29-2"><use href="#OR" x="135" y="1518"/></g><g id="k29-3"><use href="#AR" x="187" y="1518"/></g><g id="k29-4"><use href="#OR" x="239" y="1518"/></g><g id="k29-5"><use href="#OR" x="291" y="1518"/></g><g id="k29-6"><use href="#OR" x="343" y="1518"/></g><g id="k29-7"><use href="#OR" x="395" y="1518"/></g><g id="k29-8"><use href="#CR" x="447" y="1518"/></g><g id="k29-9"><use href="#OR" x="499" y="1518"/></g></g>
<g id="r30"><g id="k30-1"><use href="#OL" x="83" y="1570"/></g><g id="k30-2"><use href="#OL" x="135" y="1570"/></g><g id="k30-3"><use href="#OL" x="187" y="1570"/></g><g id="k30-4"><use href="#OL" x="239" y="1570"/></g><g id="k30-5"><use href="#OL" x="291" y="1570"/></g><g id="k30-6"><use href="#OL" x="343" y="1570"/></g><g id="k30-7"><use href="#OL" x="395" y="1570"/></g><g id="k30-8"><use href="#OL" x="447" y="1570"/></g><g id="k30-9"><use href="#OL" x="499" y="1570"/></g></g>
<g id="r31"><g id="k31-1"><use href="#OR" x="83" y="1622"/></g><g id="k31-2"><use href="#OR" x="135" y="1622"/></g><g id="k31-3"><use href="#CR" x="187" y="1622"/></g><g id="k31-4"><use href="#CR" x="239" y="1622"/></g><g id="k31-5"><use href="#CR" x="291" y="1622"/></g><g id="k31-6"><use href="#CR" x="343" y="1622"/></g><g id="k31-7"><use href="#OR" x="395" y="1622"/></g><g id="k31-8"><use href="#OR" x="447" y="1622"/></g><g id="k31-9"><use href="#OR" x="499" y="1622"/></g></g>
<g id="r32"><g id="k32-1"><use href="#OL" x="83" y="1674"/></g><g id="k32-2"><use href="#CL" x="135" y="1674"/></g><g id="k32-3"><use href="#CL" x="187" y="1674"/></g><g id="k32-4"><use href="#CL" x="239" y="1674"/></g><g id="k32-5"><use href="#CL" x="291" y="1674"/></g><g id="k32-6"><use href="#CL" x="343" y="1674"/></g><g id="k32-7"><use href="#OL" x="395" y="1674"/></g><g id="k32-8"><use href="#OL" x="447" y="1674"/></g><g id="k32-9"><use href="#OL" x="499" y="1674"/></g></g>
<g id="r33"><g id="k33-1"><use href="#OR" x="83" y="1726"/></g><g id="k33-2"><use href="#CR" x="135" y="1726"/></g><g id="k33-3"><use href="#OR" x="187" y="1726"/></g><g id="k33-4"><use href="#OR" x="239" y="1726"/></g><g id="k33-5"><use href="#OR" x="291" y="1726"/></g><g id="k33-6"><use href="#OR" x="343" y="1726"/></g><g id="k33-7"><use href="#OR" x="395" y="1726"/></g><g id="k33-8"><use href="#AR" x="447" y="1726"/></g><g id="k33-9"><use href="#OR" x="499" y="1726"/></g></g>
<g id="r34"><g id="k34-1"><use href="#OL" x="83" y="1778"/></g><g id="k34-2"><use href="#CL" x="135" y="1778"/></g><g id="k34-3"><use href="#OL" x="187" y="1778"/></g><g id="k34-4"><use href="#OL" x="239" y="1778"/></g><g id="k34-5"><use href="#OL" x="291" y="1778"/></g><g id="k34-6"><use href="#OL" x="343" y="1778"/></g><g id="k34-7"><use href="#OL" x="395" y="1778"/></g><g id="k34-8"><use href="#OL" x="447" y="1778"/></g><g id="k34-9"><use href="#OL" x="499" y="1778"/></g></g>
<g id="r35"><g id="k35-1"><use href="#OR" x="83" y="1830"/></g><g id="k35-2"><use href="#CR" x="135" y="1830"/></g><g id="k35-3"><use href="#CR" x="187" y="1830"/></g><g id="k35-4"><use href="#CR" x="239" y="1830"/></g><g id="k35-5"><use href="#CR" x="291" y="1830"/></g><g id="k35-6"><use href="#CR" x="343" y="1830"/></g><g id="k35-7"><use href="#OR" x="395" y="1830"/></g><g id="k35-8"><use href="#OR" x="447" y="1830"/></g><g id="k35-9"><use href="#OR" x="499" y="1830"/></g></g>
<g id="r36"><g id="k36-1"><use href="#OL" x="83" y="1882"/></g><g id="k36-2"><use href="#OL" x="135" y="1882"/></g><g id="k36-3"><use href="#CL" x="187" y="1882"/></g><g id="k36-4"><use href="#CL" x="239" y="1882"/></g><g id="k36-5"><use href="#CL" x="291" y="1882"/></g><g id="k36-6"><use href="#CL" x="343" y="1882"/></g><g id="k36-7"><use href="#OL" x="395" y="1882"/></g><g id="k36-8"><use href="#OL" x="447" y="1882"/></g><g id="k36-9"><use href="#OL" x="499" y="1882"/></g></g>
<g id="r37"><g id="k37-1"><use href="#OR" x="83" y="1934"/></g><g id="k37-2"><use href="#OR" x="135" y="1934"/></g><g id="k37-3"><use href="#OR" x="187" y="1934"/></g><g id="k37-4"><use href="#OR" x="239" y="1934"/></g><g id="k37-5"><use href="#OR" x="291" y="1934"/></g><g id="k37-6"><use href="#OR" x="343" y="1934"/></g><g id="k37-7"><use href="#OR" x="395" y="1934"/></g><g id="k37-8"><use href="#OR" x="447" y="1934"/></g><g id="k37-9"><use href="#OR" x="499" y="1934"/></g></g>
<g id="r38"><g id="k38-1"><use href="#OL" x="83" y="1986"/></g><g id="k38-2"><use href="#AL" x="135" y="1986"/></g><g id="k38-3"><use href="#AL" x="187" y="1986"/></g><g id="k38-4"><use href="#AL" x="239" y="1986"/></g><g id="k38-5"><use href="#AL" x="291" y="1986"/></g><g id="k38-6"><use href="#AL" x="343" y="1986"/></g><g id="k38-7"><use href="#OL" x="395" y="1986"/></g><g id="k38-8"><use href="#CL" x="447" y="1986"/></g><g id="k38-9"><use href="#OL" x="499" y="1986"/></g></g>
<g id="r39"><g id="k39-1"><use href="#OR" x="83" y="2038"/></g><g id="k39-2"><use href="#AR" x="135" y="2038"/></g><g id="k39-3"><use href="#AR" x="187" y="2038"/></g><g id="k39-4"><use href="#AR" x="239" y="2038"/></g><g id="k39-5"><use href="#AR" x="291" y="2038"/></g><g id="k39-6"><use href="#AR" x="343" y="2038"/></g><g id="k39-7"><use href="#OR" x="395" y="2038"/></g><g id="k39-8"><use href="#OR" x="447" y="2038"/></g><g id="k39-9"><use href="#OR" x="499" y="2038"/></g></g>
<g id="r40"><g id="k40-1"><use href="#OL" x="83" y="2090"/></g><g id="k40-2"><use href="#OL" x="135" y="2090"/></g><g id="k40-3"><use href="#OL" x="187" y="2090"/></g><g id="k40-4"><use href="#OL" x="239" y="2090"/></g><g id="k40-5"><use href="#OL" x="291" y="2090"/></g><g id="k40-6"><use href="#AL" x="343" y="2090"/></g><g id="k40-7"><use href="#OL" x="395" y="2090"/></g><g id="k40-8"><use href="#OL" x="447" y="2090"/></g><g id="k40-9"><use href="#OL" x="499" y="2090"/></g></g>
<g id="r41"><g id="k41-1"><use href="#OR" x="83" y="2142"/></g><g id="k41-2"><use href="#AR" x="135" y="2142"/></g><g id="k41-3"><use href="#OR" x="187" y="2142"/></g><g id="k41-4"><use href="#AR" x="239" y="2142"/></g><g id="k41-5"><use href="#AR" x="291" y="2142"/></g><g id="k41-6"><use href="#OR" x="343" y="2142"/></g><g id="k41-7"><use href="#OR" x="395" y="2142"/></g><g id="k41-8"><use href="#OR" x="447" y="2142"/></g><g id="k41-9"><use href="#OR" x="499" y="2142"/></g></g>
<g id="r42"><g id="k42-1"><use href="#OL" x="83" y="2194"/></g><g id="k42-2"><use href="#OL" x="135" y="2194"/></g><g id="k42-3"><use href="#OL" x="187" y="2194"/></g><g id="k42-4"><use href="#OL" x="239" y="2194"/></g><g id="k42-5"><use href="#OL" x="291" y="2194"/></g><g id="k42-6"><use href="#AL" x="343" y="2194"/></g><g id="k42-7"><use href="#OL" x="395" y="2194"/></g><g id="k42-8"><use href="#OL" x="447" y="2194"/></g><g id="k42-9"><use href="#OL" x="499" y="2194"/></g></g>
<g id="r43"><g id="k43-1"><use href="#OR" x="83" y="2246"/></g><g id="k43-2"><use href="#AR" x="135" y="2246"/></g><g id="k43-3"><use href="#AR" x="187" y="2246"/></g><g id="k43-4"><use href="#AR" x="239" y="2246"/></g><g id="k43-5"><use href="#AR" x="291" y="2246"/></g><g id="k43-6"><use href="#AR" x="343" y="2246"/></g><g id="k43-7"><use href="#OR" x="395" y="2246"/></g><g id="k43-8"><use href="#AR" x="447" y="2246"/></g><g id="k43-9"><use href="#OR" x="499" y="2246"/></g></g>
<g id="r44"><g id="k44-1"><use href="#OL" x="83" y="2298"/></g><g id="k44-2"><use href="#AL" x="135" y="2298"/></g><g id="k44-3"><use href="#AL" x="187" y="2298"/></g><g id="k44-4"><use href="#AL" x="239" y="2298"/></g><g id="k44-5"><use href="#AL" x="291" y="2298"/></g><g id="k44-6"><use href="#OL" x="343" y="2298"/></g><g id="k44-7"><use href="#OL" x="395" y="2298"/></g><g id="k44-8"><use href="#OL" x="447" y="2298"/></g><g id="k44-9"><use href="#OL" x="499" y="2298"/></g></g>
<g id="r45"><g id="k45-1"><use href="#OR" x="83" y="2350"/></g><g id="k45-2"><use href="#OR" x="135" y="2350"/></g><g id="k45-3"><use href="#OR" x="187" y="2350"/></g><g id="k45-4"><use href="#OR" x="239" y="2350"/></g><g id="k45-5"><use href="#OR" x="291" y="2350"/></g><g id="k45-6"><use href="#OR" x="343" y="2350"/></g><g id="k45-7"><use href="#OR" x="395" y="2350"/></g><g id="k45-8"><use href="#OR" x="447" y="2350"/></g><g id="k45-9"><use href="#OR" x="499" y="2350"/></g></g>
<g id="r46"><g id="k46-1"><use href="#OL" x="83" y="2402"/></g><g id="k46-2"><use href="#CL" x="135" y="2402"/></g><g id="k46-3"><use href="#CL" x="187" y="2402"/></g><g id="k46-4"><use href="#CL" x="239" y="2402"/></g><g id="k46-5"><use href="#CL" x="291" y="2402"/></g><g id="k46-6"><use href="#CL" x="343" y="2402"/></g><g id="k46-7"><use href="#OL" x="395" y="2402"/></g><g id="k46-8"><use href="#OL" x="447" y="2402"/></g><g id="k46-9"><use href="#OL" x="499" y="2402"/></g></g>
<g id="r47"><g id="k47-1"><use href="#OR" x="83" y="2454"/></g><g id="k47-2"><use href="#CR" x="135" y="2454"/></g><g id="k47-3"><use href="#CR" x="187" y="2454"/></g><g id="k47-4"><use href="#CR" x="239" y="2454"/></g><g id="k47-5"><use href="#CR" x="291" y="2454"/></g><g id="k47-6"><use href="#OR" x="343" y="2454"/></g><g id="k47-7"><use href="#OR" x="395" y="2454"/></g><g id="k47-8"><use href="#CR" x="447" y="2454"/></g><g id="k47-9"><use href="#OR" x="499" y="2454"/></g></g>
<g id="r48"><g id="k48-1"><use href="#OL" x="83" y="2506"/></g><g id="k48-2"><use href="#OL" x="135" y="2506"/></g><g id="k48-3"><use href="#OL" x="187" y="2506"/></g><g id="k48-4"><use href="#OL" x="239" y="2506"/></g><g id="k48-5"><use href="#OL" x="291" y="2506"/></g><g id="k48-6"><use href="#CL" x="343" y="2506"/></g><g id="k48-7"><use href="#OL" x="395" y="2506"/></g><g id="k48-8"><use href="#OL" x="447" y="2506"/></g><g id="k48-9"><use href="#OL" x="499" y="2506"/></g></g>
<g id="r49"><g id="k49-1"><use href="#OR" x="83" y="2558"/></g><g id="k49-2"><use href="#OR" x="135" y="2558"/></g><g id="k49-3"><use href="#OR" x="187" y="2558"/></g><g id="k49-4"><use href="#OR" x="239" y="2558"/></g><g id="k49-5"><use href="#OR" x="291" y="2558"/></g><g id="k49-6"><use href="#CR" x="343" y="2558"/></g><g id="k49-7"><use href="#OR" x="395" y="2558"/></g><g id="k49-8"><use href="#OR" x="447" y="2558"/></g><g id="k49-9"><use href="#OR" x="499" y="2558"/></g></g>
<g id="r50"><g id="k50-1"><use href="#OL" x="83" y="2610"/></g><g id="k50-2"><use href="#CL" x="135" y="2610"/></g><g id="k50-3"><use href="#CL" x="187" y="2610"/></g><g id="k50-4"><use href="#CL" x="239" y="2610"/></g><g id="k50-5"><use href="#CL" x="291" y="2610"/></g><g id="k50-6"><use href="#CL" x="343" y="2610"/></g><g id="k50-7"><use href="#OL" x="395" y="2610"/></g><g id="k50-8"><use href="#OL" x="447" y="2610"/></g><g id="k50-9"><use href="#OL" x="499" y="2610"/></g></g>
<g id="r51"><g id="k51-1"><use href="#OR" x="83" y="2662"/></g><g id="k51-2"><use href="#CR" x="135" y="2662"/></g><g id="k51-3"><use href="#CR" x="187" y="2662"/></g><g id="k51-4"><use href="#CR" x="239" y="2662"/></g><g id="k51-5"><use href="#CR" x="291" y="2662"/></g><g id="k51-6"><use href="#OR" x="343" y="2662"/></g><g id="k51-7"><use href="#OR" x="395" y="2662"/></g><g id="k51-8"><use href="#OR" x="447" y="2662"/></g><g id="k51-9"><use href="#OR" x="499" y="2662"/></g></g>
<g id="r52"><g id="k52-1"><use href="#OL" x="83" y="2714"/></g><g id="k52-2"><use href="#OL" x="135" y="2714"/></g><g id="k52-3"><use href="#OL" x="187" y="2714"/></g><g id="k52-4"><use href="#OL" x="239" y="2714"/></g><g id="k52-5"><use href="#OL" x="291" y="2714"/></g><g id="k52-6"><use href="#OL" x="343" y="2714"/></g><g id="k52-7"><use href="#OL" x="395" y="2714"/></g><g id="k52-8"><use href="#CL" x="447" y="2714"/></g><g id="k52-9"><use href="#OL" x="499" y="2714"/></g></g>
<g id="r53"><g id="k53-1"><use href="#OR" x="83" y="2766"/></g><g id="k53-2"><use href="#CR" x="135" y="2766"/></g><g id="k53-3"><use href="#OR" x="187" y="2766"/></g><g id="k53-4"><use href="#OR" x="239" y="2766"/></g><g id="k53-5"><use href="#OR" x="291" y="2766"/></g><g id="k53-6"><use href="#OR" x="343" y="2766"/></g><g id="k53-7"><use href="#OR" x="395" y="2766"/></g><g id="k53-8"><use href="#OR" x="447" y="2766"/></g><g id="k53-9"><use href="#OR" x="499" y="2766"/></g></g>
<g id="r54"><g id="k54-1"><use href="#OL" x="83" y="2818"/></g><g id="k54-2"><use href="#OL" x="135" y="2818"/></g><g id="k54-3"><use href="#OL" x="187" y="2818"/></g><g id="k54-4"><use href="#CL" x="239" y="2818"/></g><g id="k54-5"><use href="#CL" x="291" y="2818"/></g><g id="k54-6"><use href="#CL" x="343" y="2818"/></g><g id="k54-7"><use href="#OL" x="395" y="2818"/></g><g id="k54-8"><use href="#OL" x="447" y="2818"/></g><g id="k54-9"><use href="#OL" x="499" y="2818"/></g></g>
<g id="r55"><g id="k55-1"><use href="#OR" x="83" y="2870"/></g><g id="k55-2"><use href="#OR" x="135" y="2870"/></g><g id="k55-3"><use href="#CR" x="187" y="2870"/></g><g id="k55-4"><use href="#CR" x="239" y="2870"/></g><g id="k55-5"><use href="#CR" x="291" y="2870"/></g><g id="k55-6"><use href="#CR" x="343" y="2870"/></g><g id="k55-7"><use href="#CR" x="395" y="2870"/></g><g id="k55-8"><use href="#OR" x="447" y="2870"/></g><g id="k55-9"><use href="#OR" x="499" y="2870"/></g></g>
<g id="r56"><g id="k56-1"><use href="#CL" x="83" y="2922"/></g><g id="k56-2"><use href="#CL" x="135" y="2922"/></g><g id="k56-3"><use href="#CL" x="187" y="2922"/></g><g id="k56-4"><use href="#CL" x="239" y="2922"/></g><g id="k56-5"><use href="#CL" x="291" y="2922"/></g><g id="k56-6"><use href="#CL" x="343" y="2922"/></g><g id="k56-7"><use href="#CL" x="395" y="2922"/></g><g id="k56-8"><use href="#CL" x="447" y="2922"/></g><g id="k56-9"><use href="#OL" x="499" y="2922"/></g></g>
<g id="r57"><g id="k57-1"><use href="#OR" x="83" y="2974"/></g><g id="k57-2"><use href="#OR" x="135" y="2974"/></g><g id="k57-3"><use href="#CR" x="187" y="2974"/></g><g id="k57-4"><use href="#CR" x="239" y="2974"/></g><g id="k57-5"><use href="#CR" x="291" y="2974"/></g><g id="k57-6"><use href="#CR" x="343" y="2974"/></g><g id="k57-7"><use href="#CR" x="395" y="2974"/></g><g id="k57-8"><use href="#OR" x="447" y="2974"/></g><g id="k57-9"><use href="#OR" x="499" y="2974"/></g></g>
<g id="r58"><g id="k58-1"><use href="#OL" x="83" y="3026"/></g><g id="k58-2"><use href="#OL" x="135" y="3026"/></g><g id="k58-3"><use href="#OL" x="187" y="3026"/></g><g id="k58-4"><use href="#CL" x="239" y="3026"/></g><g id="k58-5"><use href="#CL" x="291" y="3026"/></g><g id="k58-6"><use href="#CL" x="343" y="3026"/></g><g id="k58-7"><use href="#OL" x="395" y="3026"/></g><g id="k58-8"><use href="#OL" x="447" y="3026"/></g><g id="k58-9"><use href="#OL" x="499" y="3026"/></g></g>
<g id="r59"><g id="k59-1"><use href="#OR" x="83" y="3078"/></g><g id="k59-2"><use href="#CR" x="135" y="3078"/></g><g id="k59-3"><use href="#OR" x="187" y="3078"/></g><g id="k59-4"><use href="#OR" x="239" y="3078"/></g><g id="k59-5"><use href="#OR" x="291" y="3078"/></g><g id="k59-6"><use href="#OR" x="343" y="3078"/></g><g id="k59-7"><use href="#OR" x="395" y="3078"/></g><g id="k59-8"><use href="#CR" x="447" y="3078"/></g><g id="k59-9"><use href="#OR" x="499" y="3078"/></g></g>
<g id="r60"><g id="k60-1"><use href="#OL" x="83" y="3130"/></g><g id="k60-2"><use href="#OL" x="135" y="3130"/></g><g id="k60-3"><use href="#OL" x="187" y="3130"/></g><g id="k60-4"><use href="#OL" x="239" y="3130"/></g><g id="k60-5"><use href="#OL" x="291" y="3130"/></g><g id="k60-6"><use href="#OL" x="343" y="3130"/></g><g id="k60-7"><use href="#OL" x="395" y="3130"/></g><g id="k60-8"><use href="#OL" x="447" y="3130"/></g><g id="k60-9"><use href="#OL" x="499" y="3130"/></g></g>
</g>
<g id="row-labels" class="lb">
<g text-anchor="end">
<text x="21" y="66.5">1</text><text x="21" y="118.5">2</text><text x="21" y="170.5">3</text><text x="21" y="222.5">4</text><text x="21" y="274.5">5</text><text x="21" y="326.5">6</text><text x="21" y="378.5">7</text><text x="21" y="430.5">8</text><text x="21" y="482.5">9</text><text x="21" y="534.5">10</text>
<text x="21" y="586.5">11</text><text x="21" y="638.5">12</text><text x="21" y="690.5">13</text><text x="21" y="742.5">14</text><text x="21" y="794.5">15</text><text x="21" y="846.5">16</text><text x="21" y="898.5">17</text><text x="21" y="950.5">18</text><text x="21" y="1002.5">19</text><text x="21" y="1054.5">20</text>
<text x="21" y="1106.5">21</text><text x="21" y="1158.5">22</text><text x="21" y="1210.5">23</text><text x="21" y="1262.5">24</text><text x="21" y="1314.5">25</text><text x="21" y="1366.5">26</text><text x="21" y="1418.5">27</text><text x="21" y="1470.5">28</text><text x="21" y="1522.5">29</text><text x="21" y="1574.5">30</text>
<text x="21" y="1626.5">31</text><text x="21" y="1678.5">32</text><text x="21" y="1730.5">33</text><text x="21" y="1782.5">34</text><text x="21" y="1834.5">35</text><text x="21" y="1886.5">36</text><text x="21" y="1938.5">37</text><text x="21" y="1990.5">38</text><text x="21" y="2042.5">39</text><text x="21" y="2094.5">40</text>
<text x="21" y="2146.5">41</text><text x="21" y="2198.5">42</text><text x="21" y="2250.5">43</text><text x="21" y="2302.5">44</text><text x="21" y="2354.5">45</text><text x="21" y="2406.5">46</text><text x="21" y="2458.5">47</text><text x="21" y="2510.5">48</text><text x="21" y="2562.5">49</text><text x="21" y="2614.5">50</text>
<text x="21" y="2666.5">51</text><text x="21" y="2718.5">52</text><text x="21" y="2770.5">53</text><text x="21" y="2822.5">54</text><text x="21" y="2874.5">55</text><text x="21" y="2926.5">56</text><text x="21" y="2978.5">57</text><text x="21" y="3030.5">58</text><text x="21" y="3082.5">59</text><text x="21" y="3134.5">60</text>
</g>
<g>
<text x="561" y="66.5">1</text><text x="561" y="118.5">2</text><text x="561" y="170.5">3</text><text x="561" y="222.5">4</text><text x="561" y="274.5">5</text><text x="561" y="326.5">6</text><text x="561" y="378.5">7</text><text x="561" y="430.5">8</text><text x="561" y="482.5">9</text><text x="561" y="534.5">10</text>
<text x="561" y="586.5">11</text><text x="561" y="638.5">12</text><text x="561" y="690.5">13</text><text x="561" y="742.5">14</text><text x="561" y="794.5">15</text><text x="561" y="846.5">16</text><text x="561" y="898.5">17</text><text x="561" y="950.5">18</text><text x="561" y="1002.5">19</text><text x="561" y="1054.5">20</text>
<text x="561" y="1106.5">21</text><text x="561" y="1158.5">22</text><text x="561" y="1210.5">23</text><text x="561" y="1262.5">24</text><text x="561" y="1314.5">25</text><text x="561" y="1366.5">26</text><text x="561" y="1418.5">27</text><text x="561" y="1470.5">28</text><text x="561" y="1522.5">29</text><text x="561" y="1574.5">30</text>
<text x="561" y="1626.5">31</text><text x="561" y="1678.5">32</text><text x="561" y="1730.5">33</text><text x="561" y="1782.5">34</text><text x="561" y="1834.5">35</text><text x="561" y="1886.5">36</text><text x="561" y="1938.5">37</text><text x="561" y="1990.5">38</text><text x="561" y="2042.5">39</text><text x="561" y="2094.5">40</text>
<text x="561" y="2146.5">41</text><text x="561" y="2198.5">42</text><text x="561" y="2250.5">43</text><text x="561" y="2302.5">44</text><text x="561" y="2354.5">45</text><text x="561" y="2406.5">46</text><text x="561" y="2458.5">47</text><text x="561" y="2510.5">48</text><text x="561" y="2562.5">49</text><text x="561" y="2614.5">50</text>
<text x="561" y="2666.5">51</text><text x="561" y="2718.5">52</text><text x="561" y="2770.5">53</text><text x="561" y="2822.5">54</text><text x="561" y="2874.5">55</text><text x="561" y="2926.5">56</text><text x="561" y="2978.5">57</text><text x="561" y="3030.5">58</text><text x="561" y="3082.5">59</text><text x="561" y="3134.5">60</text>
</g>
</g>
<text id="watermark" x="291.5" y="1601" text-anchor="middle" font-family="Liberation Sans, Arial, sans-serif" font-weight="bold" font-size="15.5" fill="#3a3a3a" textLength="153" lengthAdjust="spacingAndGlyphs">BRACELETBOOK.COM</text>
</svg>
